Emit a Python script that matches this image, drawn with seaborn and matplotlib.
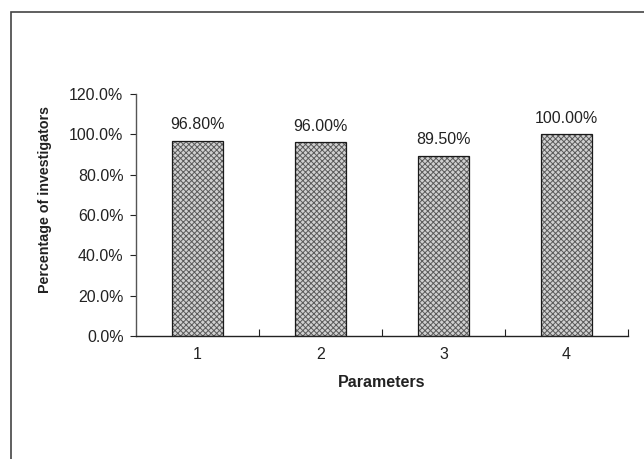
import pandas as pd
import seaborn as sns
import matplotlib.pyplot as plt
import matplotlib.ticker as ticker
from matplotlib.patches import Rectangle

# values
parameters = ['1', '2', '3', '4']
percentages = [96.8, 96.0, 89.5, 100.0]
bar_labels = ['96.80%', '96.00%', '89.50%', '100.00%']
y_ticks = [0, 20, 40, 60, 80, 100, 120]

df = pd.DataFrame({'Parameters': parameters, 'Percentage': percentages})

sns.set_theme(style='white')
plt.rcParams['font.family'] = ['Liberation Sans', 'DejaVu Sans']
plt.rcParams['hatch.linewidth'] = 0.7

fig = plt.figure(figsize=(6.44, 4.59), dpi=100)
ax = fig.add_axes([136 / 644, 1 - 336 / 459, 492 / 644, 242 / 459])

# outer frame, clipped by the figure on the right and bottom
fig.patches.append(Rectangle((11 / 644, -0.1), 1.1, 1 - 12 / 459 + 0.1,
                             transform=fig.transFigure, fill=False,
                             edgecolor='#444444', linewidth=1.2))

# patterned fill first, then the black outline on top
sns.barplot(data=df, x='Parameters', y='Percentage', ax=ax, width=0.42,
            color='#d0d0d0', edgecolor='#5a5a5a', linewidth=0, hatch='xxxxxx')
sns.barplot(data=df, x='Parameters', y='Percentage', ax=ax, width=0.42,
            fill=False, edgecolor='#1a1a1a', linewidth=0.9)

for i, (v, lab) in enumerate(zip(percentages, bar_labels)):
    ax.annotate(lab, (i, v), xytext=(0, 6), textcoords='offset points',
                ha='center', va='bottom', fontsize=11.5, color='#222222')

ax.set_ylim(0, 120)
ax.set_xlim(-0.5, 3.5)
ax.set_yticks(y_ticks)
ax.yaxis.set_major_formatter(ticker.FuncFormatter(lambda x, pos: '{:.1f}%'.format(x)))
ax.xaxis.set_minor_locator(ticker.FixedLocator([0.5, 1.5, 2.5, 3.5]))

ax.tick_params(axis='y', which='major', left=True, length=4, width=0.8,
               direction='out', pad=5, labelsize=11.5, colors='#222222')
ax.tick_params(axis='x', which='major', bottom=False, length=0, pad=8,
               labelsize=11.5, colors='#222222')
ax.tick_params(axis='x', which='minor', bottom=True, length=5, width=0.8,
               direction='in', color='#222222')

for side in ['top', 'right']:
    ax.spines[side].set_visible(False)
ax.spines['left'].set_color('#555555')
ax.spines['bottom'].set_color('#222222')
ax.spines['left'].set_linewidth(1.0)
ax.spines['bottom'].set_linewidth(1.0)

ax.set_xlabel('Parameters', fontsize=11.5, fontweight='bold', color='#222222', labelpad=9)
ax.set_ylabel('Percentage of investigators', fontsize=10.3, fontweight='bold', color='#222222')
ax.yaxis.set_label_coords(-0.171, 0.562)

fig.savefig('out.png', dpi=100)
